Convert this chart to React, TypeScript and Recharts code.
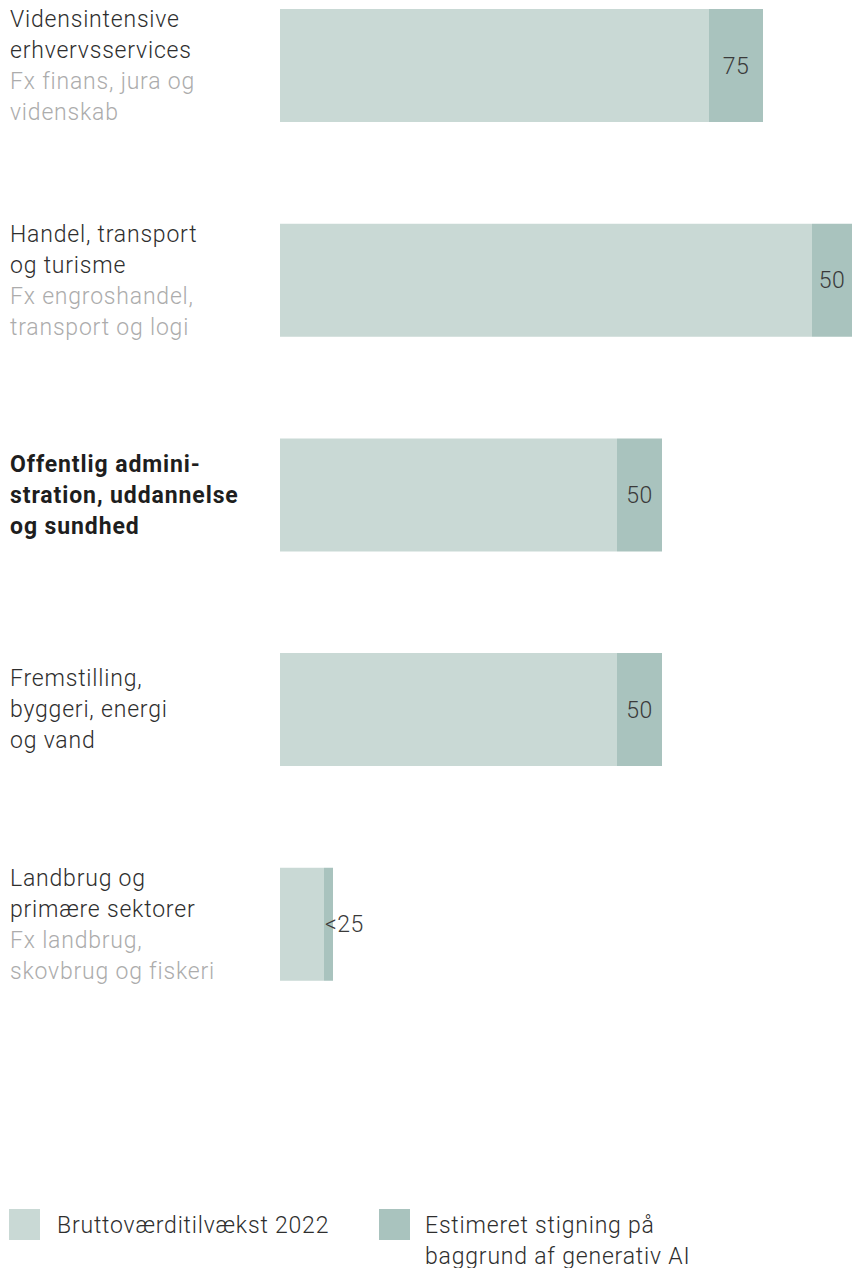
import { BarChart, Bar, XAxis, YAxis, LabelList } from 'recharts'

const categories = ['viden', 'handel', 'offentlig', 'fremstilling', 'landbrug']
const mainLines = [
  ['Vidensintensive', 'erhvervsservices'],
  ['Handel, transport', 'og turisme'],
  ['Offentlig admini-', 'stration, uddannelse', 'og sundhed'],
  ['Fremstilling,', 'byggeri, energi', 'og vand'],
  ['Landbrug og', 'primære sektorer'],
]
const subLines = [
  ['Fx finans, jura og', 'videnskab'],
  ['Fx engroshandel,', 'transport og logi'],
  [],
  [],
  ['Fx landbrug,', 'skovbrug og fiskeri'],
]
const highlighted = [false, false, true, false, false]
const baseValues = [429, 532, 337, 337, 44]
const aiValues = [54, 40, 45, 45, 9]
const aiLabels = ['75', '50', '50', '50', '<25']
const legendNames = ['Bruttoværditilvækst 2022', 'Estimeret stigning på\nbaggrund af generativ AI']

const LIGHT = '#c9d9d5'
const DARK = '#a9c3be'
const FONT = 'Roboto, sans-serif'

const data = categories.map((key, i) => ({
  key,
  base: baseValues[i],
  ai: aiValues[i],
  label: aiLabels[i],
}))

function CategoryTick(props: any) {
  const { y, payload } = props
  const i = categories.indexOf(payload.value)
  if (i < 0) return null
  const main = mainLines[i]
  const sub = subLines[i]
  const n = main.length + sub.length
  const first = y - ((n - 1) * 31) / 2 + 8
  const bold = highlighted[i]
  return (
    <text x={10} y={first} fontFamily={FONT} fontSize={23} textAnchor="start">
      {main.map((t, j) => (
        <tspan key={'m' + j} x={10} dy={j === 0 ? 0 : 31} fill={bold ? '#1e1e1e' : '#2e2e2e'}
          fontWeight={bold ? 700 : 300} letterSpacing={bold ? 0.9 : 0.8}>
          {t}
        </tspan>
      ))}
      {sub.map((t, j) => (
        <tspan key={'s' + j} x={10} dy={31} fill="#acacac" fontWeight={300} letterSpacing={0.8}>
          {t}
        </tspan>
      ))}
    </text>
  )
}

function AiLabel(props: any) {
  const { x, y, width, height, value } = props
  const cx = Number(x), cy = Number(y) + Number(height) / 2
  const w = Number(width)
  const wide = w > 25
  return (
    <text x={wide ? cx + w / 2 : cx + 1} y={cy} dy={8} textAnchor={wide ? 'middle' : 'start'}
      fontFamily={FONT} fontSize={23} fontWeight={300} fill="#3a3a3a" letterSpacing={0.5}>
      {value}
    </text>
  )
}

const legendText = {
  position: 'absolute' as const,
  top: 1210,
  fontSize: 23,
  lineHeight: '31px',
  fontWeight: 300,
  letterSpacing: 0.8,
  color: '#2e2e2e',
  whiteSpace: 'pre' as const,
}

export default function App() {
  const [name1, name2] = legendNames
  return (
    <div style={{ position: 'relative', width: 852, height: 1268, fontFamily: FONT }}>
      <style>{'body{margin:0}'}</style>
      <BarChart width={852} height={1040} layout="vertical" data={data}
        margin={{ top: -42, right: 0, bottom: 8.5, left: 0 }}>
        <XAxis type="number" hide domain={[0, 572]} />
        <YAxis type="category" dataKey="key" width={280} axisLine={false} tickLine={false}
          interval={0} tick={<CategoryTick />} />
        <Bar dataKey="base" stackId="a" fill={LIGHT} barSize={113} isAnimationActive={false} />
        <Bar dataKey="ai" stackId="a" fill={DARK} barSize={113} isAnimationActive={false}>
          <LabelList dataKey="label" content={<AiLabel />} />
        </Bar>
      </BarChart>

      <div style={{ position: 'absolute', left: 9, top: 1209, width: 31, height: 31, background: LIGHT }} />
      <div style={{ ...legendText, left: 57 }}>{name1}</div>
      <div style={{ position: 'absolute', left: 379, top: 1209, width: 31, height: 31, background: DARK }} />
      <div style={{ ...legendText, left: 425 }}>{name2}</div>
    </div>
  )
}
